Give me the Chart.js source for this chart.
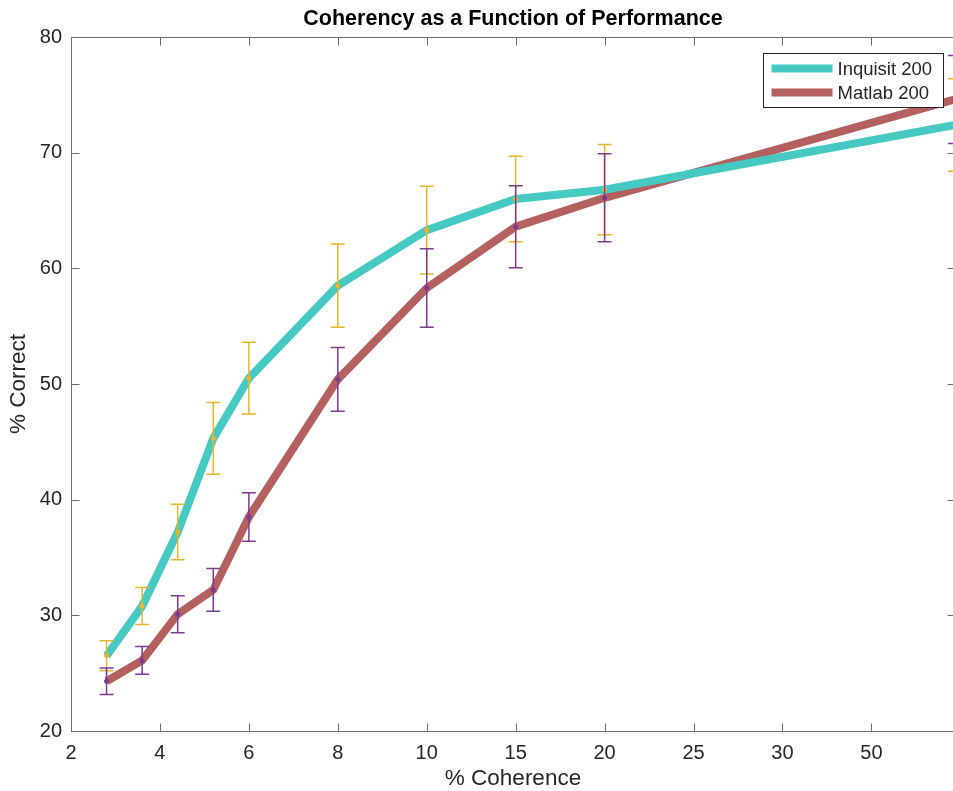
<!DOCTYPE html>
<html>
<head>
<meta charset="utf-8">
<script src="https://cdn.jsdelivr.net/npm/chart.js@4.4.1/dist/chart.umd.min.js"></script>
<style>
  html, body { margin: 0; padding: 0; background: #fff; overflow: hidden; }
  #wrap { width: 962px; height: 791px; }
</style>
</head>
<body>
<div id="wrap"><canvas id="chart" width="962" height="791"></canvas></div>
<script>
// x axis is drawn by position, labels are the coherence levels
const xLabels = ['2', '4', '6', '8', '10', '15', '20', '25', '30', '50'];
const xPos = [0.4, 0.8, 1.2, 1.6, 2, 3, 4, 5, 6, 9.94];

const inquisit = [26.5, 30.8, 37.2, 45.3, 50.5, 58.5, 63.3, 66.0, 66.8, 72.4];
const inquisitErr = [1.3, 1.6, 2.4, 3.1, 3.1, 3.6, 3.8, 3.7, 3.9, 4.0];

const matlab = [24.3, 26.1, 30.1, 32.2, 38.5, 50.4, 58.3, 63.6, 66.1, 74.6];
const matlabErr = [1.15, 1.2, 1.6, 1.85, 2.1, 2.75, 3.4, 3.55, 3.8, 3.8];

const yMin = 20, yMax = 80, yStep = 10;

const FONT = '"Liberation Sans", Arial, Helvetica, sans-serif';
const TEXT = '#262626';
const AXIS = '#6e6e6e';

const toPoints = (vals) => vals.map((v, i) => ({ x: xPos[i], y: v }));

// error bars + dot markers, drawn on top of the thick lines
const errorBars = {
    id: 'errorBars',
    afterDatasetsDraw(chart) {
        const { ctx, chartArea: a, scales: { x, y } } = chart;
        ctx.save();
        chart.data.datasets.forEach(ds => {
            ctx.strokeStyle = ds.errColor;
            ctx.fillStyle = ds.errColor;
            ctx.lineWidth = 1.5;
            ds.data.forEach((p, i) => {
                const px = x.getPixelForValue(p.x);
                const top = y.getPixelForValue(p.y + ds.err[i]);
                const bot = y.getPixelForValue(p.y - ds.err[i]);
                ctx.beginPath();
                ctx.moveTo(px, top); ctx.lineTo(px, bot);
                ctx.moveTo(px - 7, top); ctx.lineTo(px + 7, top);
                ctx.moveTo(px - 7, bot); ctx.lineTo(px + 7, bot);
                ctx.stroke();
                ctx.beginPath();
                ctx.arc(px, y.getPixelForValue(p.y), 2.5, 0, Math.PI * 2);
                ctx.fill();
            });
        });
        ctx.restore();
    }
};

// matlab style box with inward ticks, and the boxed legend
const axesBox = {
    id: 'axesBox',
    afterDraw(chart) {
        const { ctx, chartArea: a, scales: { x, y } } = chart;
        ctx.save();
        ctx.strokeStyle = AXIS;
        ctx.lineWidth = 1;
        const L = Math.round(a.left) + 0.5, R = Math.round(a.right) + 0.5;
        const T = Math.round(a.top) + 0.5, B = Math.round(a.bottom) + 0.5;
        ctx.strokeRect(L, T, R - L, B - T);
        ctx.beginPath();
        x.ticks.forEach(t => {
            const px = Math.round(x.getPixelForValue(t.value)) + 0.5;
            ctx.moveTo(px, B); ctx.lineTo(px, B - 8);
            ctx.moveTo(px, T); ctx.lineTo(px, T + 8);
        });
        y.ticks.forEach(t => {
            const py = Math.round(y.getPixelForValue(t.value)) + 0.5;
            ctx.moveTo(L, py); ctx.lineTo(L + 8, py);
            ctx.moveTo(R, py); ctx.lineTo(R - 8, py);
        });
        ctx.stroke();

        // legend
        const bx = 763.5, by = 53.5, bw = 180, bh = 54;
        ctx.fillStyle = '#fff';
        ctx.fillRect(bx, by, bw, bh);
        ctx.strokeStyle = TEXT;
        ctx.strokeRect(bx, by, bw, bh);
        ctx.font = '18.5px ' + FONT;
        ctx.textBaseline = 'middle';
        chart.data.datasets.forEach((ds, i) => {
            const ly = by + 15 + i * 24;
            ctx.strokeStyle = ds.borderColor;
            ctx.lineWidth = 8;
            ctx.beginPath();
            ctx.moveTo(bx + 8, ly); ctx.lineTo(bx + 69, ly);
            ctx.stroke();
            ctx.fillStyle = TEXT;
            ctx.fillText(ds.label, bx + 74, ly + 1);
        });
        ctx.restore();
    }
};

new Chart(document.getElementById('chart'), {
    type: 'line',
    data: {
        datasets: [
            {
                label: 'Inquisit 200',
                data: toPoints(inquisit),
                err: inquisitErr,
                borderColor: '#47c9c3',
                errColor: '#e8b52c',
                borderWidth: 8,
                pointRadius: 0,
                tension: 0,
                fill: false
            },
            {
                label: 'Matlab 200',
                data: toPoints(matlab),
                err: matlabErr,
                borderColor: '#b3605f',
                errColor: '#7e3a8e',
                borderWidth: 8,
                pointRadius: 0,
                tension: 0,
                fill: false
            }
        ]
    },
    options: {
        responsive: false,
        animation: false,
        devicePixelRatio: 1,
        layout: { padding: { left: 0, right: 7, top: 0, bottom: 0 } },
        plugins: {
            legend: { display: false },
            tooltip: { enabled: false },
            title: {
                display: true,
                fullSize: false,
                text: 'Coherency as a Function of Performance',
                color: '#000',
                font: { family: FONT, size: 21.5, weight: 'bold', lineHeight: 1.2 },
                padding: { top: 6, bottom: 5.2 }
            }
        },
        scales: {
            x: {
                type: 'linear',
                min: 0,
                max: 9.94,
                afterBuildTicks: (s) => { s.ticks = xLabels.map((_, i) => ({ value: i })); },
                afterFit: (s) => { s.height = 60; },
                ticks: {
                    callback: (v) => xLabels[v],
                    color: TEXT,
                    font: { family: FONT, size: 20 },
                    padding: 10,
                    maxRotation: 0,
                    autoSkip: false
                },
                grid: { display: false, drawTicks: false },
                border: { display: false },
                title: {
                    display: true,
                    text: '% Coherence',
                    color: TEXT,
                    font: { family: FONT, size: 22.5, lineHeight: 1 },
                    padding: { top: 0, bottom: 1 }
                }
            },
            y: {
                min: yMin,
                max: yMax,
                afterFit: (s) => { s.width = 71; },
                ticks: {
                    stepSize: yStep,
                    color: TEXT,
                    font: { family: FONT, size: 20 },
                    padding: 9
                },
                grid: { display: false, drawTicks: false },
                border: { display: false },
                title: {
                    display: true,
                    text: '% Correct',
                    color: TEXT,
                    font: { family: FONT, size: 22.5, lineHeight: 1.2 },
                    padding: { top: 5.5, bottom: 0 }
                }
            }
        }
    },
    plugins: [errorBars, axesBox]
});
</script>
</body>
</html>
